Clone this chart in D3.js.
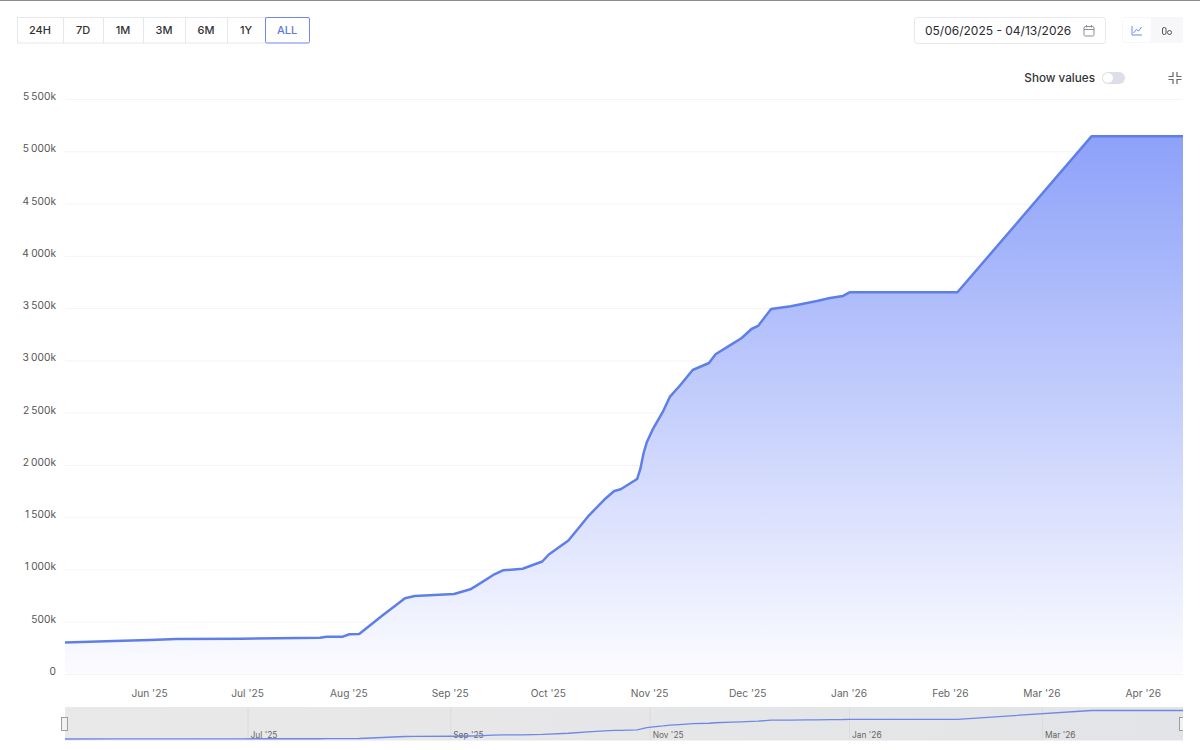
<!DOCTYPE html>
<html>
<head>
<meta charset="utf-8">
<script src="https://cdn.jsdelivr.net/npm/d3@7/dist/d3.min.js"></script>
<style>
html, body { margin: 0; padding: 0; background: #fff; }
svg { display: block; font-family: Inter, "Noto Sans", sans-serif; }
</style>
</head>
<body>
<script>
var width = 1200, height = 750;

var dates = ["2025-05-06","2025-05-21","2025-06-01","2025-06-09","2025-06-29","2025-07-23","2025-07-25","2025-07-30",
    "2025-08-01","2025-08-04","2025-08-11","2025-08-18","2025-08-21","2025-09-02",
    "2025-09-07","2025-09-09","2025-09-14","2025-09-17","2025-09-23","2025-09-29","2025-10-01",
    "2025-10-07","2025-10-13","2025-10-18","2025-10-21","2025-10-23","2025-10-28","2025-10-29","2025-10-30","2025-10-31",
    "2025-11-02","2025-11-05","2025-11-07","2025-11-10","2025-11-14","2025-11-19","2025-11-21","2025-11-26","2025-11-29",
    "2025-12-02","2025-12-04","2025-12-08","2025-12-14","2025-12-19","2025-12-22","2025-12-26","2025-12-30","2026-01-01",
    "2026-02-03","2026-03-16","2026-04-13"];

var values = [301,315,325,335,338,347,357,357,
    380,382,558,724,746,765,
    810,848,947,992,1007,1076,1143,
    1277,1507,1669,1750,1767,1865,1961,2114,2219,
    2353,2515,2650,2755,2908,2975,3059,3155,3214,
    3300,3329,3491,3518,3548,3567,3596,3616,3651,
    3651,5143,5143];

var yTicks = [0,500,1000,1500,2000,2500,3000,3500,4000,4500,5000,5500];
var monthTicks = ["2025-06-01","2025-07-01","2025-08-01","2025-09-01","2025-10-01","2025-11-01","2025-12-01",
    "2026-01-01","2026-02-01","2026-03-01","2026-04-01"];
var navTicks = ["2025-07-01","2025-09-01","2025-11-01","2026-01-01","2026-03-01"];

var rangeLabels = ["24H","7D","1M","3M","6M","1Y","ALL"];
var rangeEdges = [17,63,103,143,185,227,265,309];

var parseDate = d3.utcParse("%Y-%m-%d");
var monthFormat = d3.utcFormat("%b '%y");

var data = dates.map(function(d, i){ return { date: parseDate(d), value: values[i] }; });

var svg = d3.select("body").append("svg")
    .attr("width", width)
    .attr("height", height);

var x = d3.scaleUtc()
    .domain([parseDate("2025-05-06"), parseDate("2026-04-13")])
    .range([65, 1183]);

var y = d3.scaleLinear()
    .domain([0, 5500])
    .range([674, 99]);

var yNav = d3.scaleLinear()
    .domain([301, 5143])
    .range([739, 710.5]);

var defs = svg.append("defs");

var grad = defs.append("linearGradient")
    .attr("id", "areaFill")
    .attr("gradientUnits", "userSpaceOnUse")
    .attr("x1", 0).attr("x2", 0)
    .attr("y1", y(5143)).attr("y2", y(0));
grad.append("stop").attr("offset", "0%").attr("stop-color", "#8da1f9");
grad.append("stop").attr("offset", "100%").attr("stop-color", "#fcfcff");

defs.append("clipPath")
    .attr("id", "navClip")
    .append("rect")
    .attr("x", 0).attr("y", 700)
    .attr("width", 1183).attr("height", 50);

// top border of the screenshot
svg.append("rect")
    .attr("width", width).attr("height", 1)
    .attr("fill", "#8c8c8c");

// range buttons
var buttons = svg.append("g").selectAll("g")
    .data(rangeLabels)
    .enter().append("g");

buttons.append("rect")
    .attr("x", function(d, i){ return rangeEdges[i] + 0.5; })
    .attr("y", 17.5)
    .attr("width", function(d, i){ return rangeEdges[i + 1] - rangeEdges[i]; })
    .attr("height", 25.5)
    .attr("fill", "#fff")
    .attr("stroke", "#e6e7ec");

buttons.filter(function(d){ return d == "ALL"; }).select("rect")
    .attr("stroke", "#6f87e6")
    .attr("rx", 1.5);

buttons.append("text")
    .attr("x", function(d, i){ return (rangeEdges[i] + rangeEdges[i + 1]) / 2; })
    .attr("y", 34)
    .attr("text-anchor", "middle")
    .style("font-size", "11px")
    .style("font-weight", 500)
    .style("fill", function(d){ return d == "ALL" ? "#5f78e0" : "#333"; })
    .text(function(d){ return d; });

// date range box
svg.append("rect")
    .attr("x", 914.5).attr("y", 17.5)
    .attr("width", 191).attr("height", 26)
    .attr("rx", 3)
    .attr("fill", "#fff")
    .attr("stroke", "#e6e7ec");

svg.append("text")
    .attr("x", 925).attr("y", 35)
    .style("font-size", "12px")
    .style("fill", "#2b2b33")
    .text("05/06/2025 - 04/13/2026");

var cal = svg.append("g")
    .attr("transform", "translate(1089,31)")
    .style("fill", "none")
    .style("stroke", "#8b8d96")
    .style("stroke-width", 1);
cal.append("rect").attr("x", -5).attr("y", -4.5).attr("width", 10).attr("height", 9.5).attr("rx", 1.5);
cal.append("path").attr("d", "M-5,-1.5H5M-2.5,-6V-3.5M2.5,-6V-3.5");

// chart type switch
svg.append("rect")
    .attr("x", 1122).attr("y", 17)
    .attr("width", 61).attr("height", 26)
    .attr("rx", 3)
    .attr("fill", "#f7f7f9");
svg.append("rect")
    .attr("x", 1123).attr("y", 18)
    .attr("width", 28).attr("height", 24)
    .attr("rx", 2)
    .attr("fill", "#fff");
svg.append("path")
    .attr("d", "M1132,26V35H1142M1133.5,33L1136.5,29.5L1138.5,31L1141.5,27")
    .attr("fill", "none")
    .attr("stroke", "#6f87e6");
svg.append("rect")
    .attr("x", 1162.5).attr("y", 27.5)
    .attr("width", 3.5).attr("height", 7)
    .attr("rx", 1.5)
    .attr("fill", "none")
    .attr("stroke", "#555");
svg.append("circle")
    .attr("cx", 1169.5).attr("cy", 32.5).attr("r", 2)
    .attr("fill", "none")
    .attr("stroke", "#555");

// show values toggle
svg.append("text")
    .attr("x", 1095).attr("y", 81.5)
    .attr("text-anchor", "end")
    .style("font-size", "11.7px")
    .style("font-weight", 500)
    .style("fill", "#333")
    .text("Show values");
svg.append("rect")
    .attr("x", 1102).attr("y", 72)
    .attr("width", 23).attr("height", 12)
    .attr("rx", 6)
    .attr("fill", "#dcdeea");
svg.append("circle")
    .attr("cx", 1108).attr("cy", 78).attr("r", 5)
    .attr("fill", "#fff");

svg.append("path")
    .attr("d", "M1173,72V76.5H1168.5M1177,72V76.5H1181.5M1173,84V79.5H1168.5M1177,84V79.5H1181.5")
    .attr("fill", "none")
    .attr("stroke", "#666")
    .attr("stroke-width", 1.2);

// y axis and grid
var yAxis = svg.append("g")
    .attr("transform", "translate(65,0)")
    .call(d3.axisLeft(y)
        .tickValues(yTicks)
        .tickSize(-(1183 - 65))
        .tickPadding(9)
        .tickFormat(function(d){
            if (d == 0) return "0";
            return d >= 1000 ? Math.floor(d / 1000) + " " + d3.format("03")(d % 1000) + "k" : d + "k";
        }));
yAxis.select(".domain").remove();
yAxis.selectAll("line").attr("stroke", "#f4f4f7");
yAxis.selectAll("text")
    .attr("dy", "0.05em")
    .style("font-family", "Inter")
    .style("font-size", "10.2px")
    .style("word-spacing", "-0.6px")
    .style("fill", "#555");

// main area and line
var area = d3.area()
    .x(function(d){ return x(d.date); })
    .y0(y(0))
    .y1(function(d){ return y(d.value); });

var line = d3.line()
    .x(function(d){ return x(d.date); })
    .y(function(d){ return y(d.value); });

svg.append("path")
    .datum(data)
    .attr("d", area)
    .attr("fill", "url(#areaFill)");

svg.append("path")
    .datum(data)
    .attr("d", line)
    .attr("fill", "none")
    .attr("stroke", "#5f7fe8")
    .attr("stroke-width", 2.5)
    .attr("stroke-linejoin", "round");

// x axis
var xAxis = svg.append("g")
    .attr("transform", "translate(-1,674)")
    .call(d3.axisBottom(x)
        .tickValues(monthTicks.map(parseDate))
        .tickSize(0)
        .tickPadding(13)
        .tickFormat(monthFormat));
xAxis.select(".domain").remove();
xAxis.selectAll("text")
    .attr("dy", "1em")
    .style("font-family", "Inter")
    .style("font-size", "10.2px")
    .style("fill", "#666");

// navigator
var navBg = defs.append("linearGradient").attr("id", "navFill");
navBg.append("stop").attr("offset", "0%").attr("stop-color", "#e9e9e9");
navBg.append("stop").attr("offset", "100%").attr("stop-color", "#e3e4e7");

svg.append("rect")
    .attr("x", 65).attr("y", 707)
    .attr("width", 1183 - 65).attr("height", 33.5)
    .attr("fill", "url(#navFill)");

var nav = svg.append("g").selectAll("g")
    .data(navTicks.map(parseDate))
    .enter().append("g");

nav.append("line")
    .attr("x1", function(d){ return x(d); })
    .attr("x2", function(d){ return x(d); })
    .attr("y1", 707).attr("y2", 740)
    .attr("stroke", "#dcdcde");

nav.append("text")
    .attr("x", function(d){ return x(d) + 2.5; })
    .attr("y", 737.5)
    .style("font-size", "8.4px")
    .style("fill", "#666")
    .text(monthFormat);

var navLine = d3.line()
    .x(function(d){ return x(d.date); })
    .y(function(d){ return yNav(d.value); });

svg.append("path")
    .datum(data)
    .attr("d", navLine)
    .attr("fill", "none")
    .attr("stroke", "#6f87e6")
    .attr("stroke-width", 1.3);

// navigator handles
svg.append("g")
    .attr("clip-path", "url(#navClip)")
    .selectAll("rect")
    .data([61.5, 1179.5])
    .enter().append("rect")
    .attr("x", function(d){ return d; })
    .attr("y", 717.5)
    .attr("width", 6).attr("height", 13)
    .attr("fill", "#f2f2f2")
    .attr("stroke", "#8a8a8a")
    .attr("stroke-width", 0.8);
</script>
</body>
</html>
